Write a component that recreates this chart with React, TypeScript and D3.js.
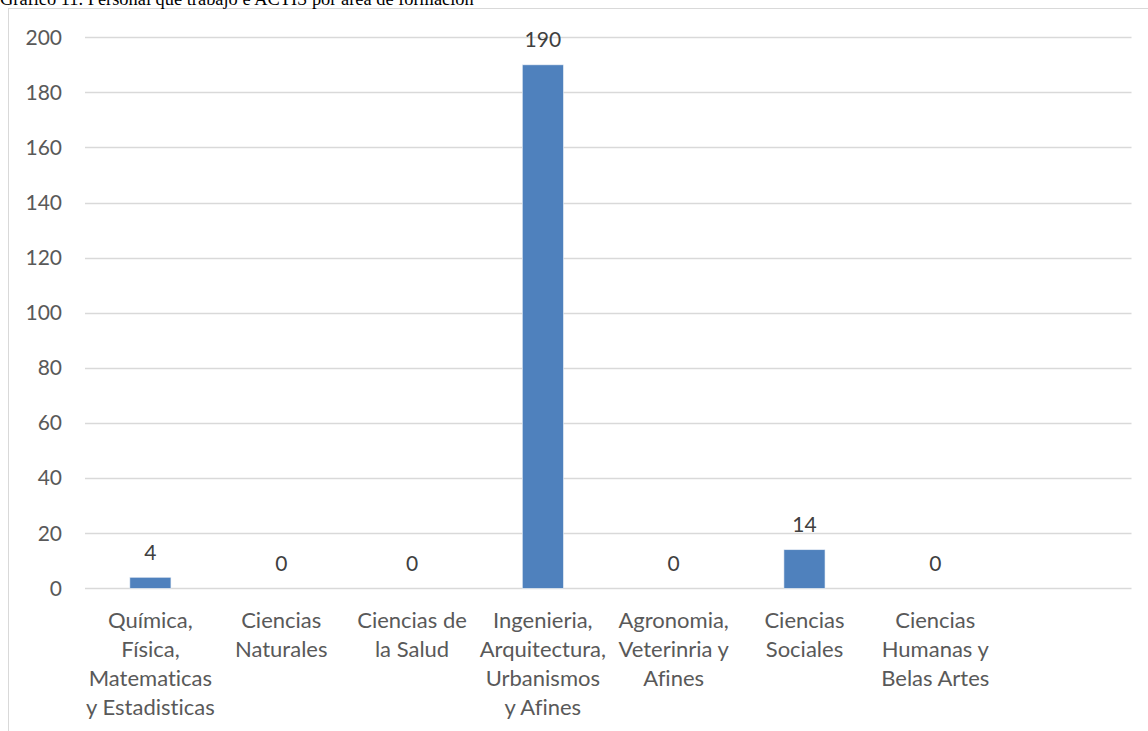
import { useEffect, useRef } from 'react';
import * as d3 from 'd3';

const title = 'Gráfico 11. Personal que trabajo e ACTIS por área de formación';

const categories = [
  'Química, Física, Matematicas y Estadisticas',
  'Ciencias Naturales',
  'Ciencias de la Salud',
  'Ingenieria, Arquitectura, Urbanismos y Afines',
  'Agronomia, Veterinria y Afines',
  'Ciencias Sociales',
  'Ciencias Humanas y Belas Artes',
  '',
];

// label lines as they wrap in the original
const categoryLines = [
  ['Química,', 'Física,', 'Matematicas', 'y Estadisticas'],
  ['Ciencias', 'Naturales'],
  ['Ciencias de', 'la Salud'],
  ['Ingenieria,', 'Arquitectura,', 'Urbanismos', 'y Afines'],
  ['Agronomia,', 'Veterinria y', 'Afines'],
  ['Ciencias', 'Sociales'],
  ['Ciencias', 'Humanas y', 'Belas Artes'],
  [],
];

const values: (number | null)[] = [4, 0, 0, 190, 0, 14, 0, null];

const yTicks = [0, 20, 40, 60, 80, 100, 120, 140, 160, 180, 200];

const W = 1148;
const H = 731;
const FONT = 'Lato, "Open Sans", sans-serif';

export default function App() {
  const ref = useRef<SVGSVGElement>(null);

  useEffect(() => {
    if (!ref.current) return;
    const svg = d3.select(ref.current);
    svg.selectAll('*').remove();

    const left = 85;
    const right = 1131.5;
    const top = 37.3;
    const bottom = 588.3;

    const keys = categories.map((c, i) => c + i);
    const x = d3.scaleBand<string>()
      .domain(keys)
      .range([left, right])
      .paddingInner(0.686)
      .paddingOuter(0.343);
    const y = d3.scaleLinear().domain([0, 200]).range([bottom, top]);
    const bw = x.bandwidth();

    svg.append('rect')
      .attr('width', W)
      .attr('height', H)
      .attr('fill', '#fff');

    // chart frame (runs off the page right and bottom)
    svg.append('rect')
      .attr('x', 8.5)
      .attr('y', 8.5)
      .attr('width', W + 20)
      .attr('height', H + 20)
      .attr('fill', 'none')
      .attr('stroke', '#d9d9d9');

    svg.append('text')
      .attr('x', 0)
      .attr('y', 5)
      .attr('font-family', '"Liberation Serif", "Times New Roman", serif')
      .attr('font-size', 18.4)
      .attr('fill', '#000')
      .text(title);

    // gridlines
    svg.append('g')
      .selectAll('line')
      .data(yTicks)
      .join('line')
      .attr('x1', left)
      .attr('x2', right)
      .attr('y1', (d) => Math.round(y(d)) + 0.5)
      .attr('y2', (d) => Math.round(y(d)) + 0.5)
      .attr('stroke', '#d9d9d9')
      .attr('stroke-width', 1.3);

    svg.append('g')
      .selectAll('text')
      .data(yTicks)
      .join('text')
      .attr('x', 62)
      .attr('y', (d) => y(d))
      .attr('dy', '0.35em')
      .attr('text-anchor', 'end')
      .attr('font-family', FONT)
      .attr('font-size', 21)
      .attr('fill', '#595959')
      .text((d) => d);

    svg.append('g')
      .selectAll('rect')
      .data(values.map((v, i) => ({ v, k: keys[i] })).filter((d) => d.v !== null && d.v > 0))
      .join('rect')
      .attr('x', (d) => x(d.k)!)
      .attr('y', (d) => y(d.v as number))
      .attr('width', bw)
      .attr('height', (d) => bottom - y(d.v as number))
      .attr('fill', '#4f81bd')
      .attr('stroke', '#e8eef6')
      .attr('stroke-width', 0.6);

    svg.append('g')
      .selectAll('text')
      .data(values.map((v, i) => ({ v, k: keys[i] })).filter((d) => d.v !== null))
      .join('text')
      .attr('x', (d) => x(d.k)! + bw / 2)
      .attr('y', (d) => y(d.v as number) - 17.5)
      .attr('text-anchor', 'middle')
      .attr('font-family', FONT)
      .attr('font-size', 21)
      .attr('fill', '#404040')
      .text((d) => d.v as number);

    const lab = svg.append('g')
      .attr('font-family', FONT)
      .attr('font-size', 22)
      .attr('fill', '#595959')
      .attr('text-anchor', 'middle');
    categoryLines.forEach((lines, i) => {
      const cx = x(keys[i])! + bw / 2;
      lines.forEach((ln, j) => {
        lab.append('text')
          .attr('x', cx)
          .attr('y', 628 + j * 29)
          .text(ln);
      });
    });
  }, []);

  return (
    <svg
      ref={ref}
      width={W}
      height={H}
      style={{ position: 'absolute', left: 0, top: 0, display: 'block', fontVariantLigatures: 'none' }}
    />
  );
}
